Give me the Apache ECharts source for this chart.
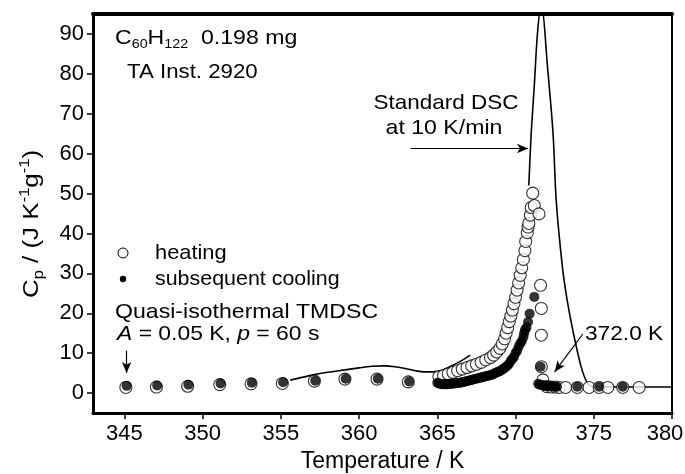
<!DOCTYPE html>
<html>
<head>
<meta charset="utf-8">
<script src="https://cdn.jsdelivr.net/npm/echarts@6/dist/echarts.min.js"></script>
<style>
html, body { margin: 0; padding: 0; background: #fff; }
#chart { width: 685px; height: 474px; }
</style>
</head>
<body>
<div id="chart"></div>
<script>
const FONT = '"Liberation Sans", Arial, Helvetica, sans-serif';

// Axis ticks
const xTicks = [345, 350, 355, 360, 365, 370, 375, 380];
const yTicks = [0, 10, 20, 30, 40, 50, 60, 70, 80, 90];

// Standard DSC at 10 K/min (null splits the trace where it runs under the symbols)
const dscT  = [355.6, 356.2, 357.0, 358.0, 359.1, 360.0, 360.8, 361.6, 362.3, 363.0, 363.6, 364.2, 364.7, 365.2, 365.8, 366.5, 367.1,
               369.0,
               370.85, 371.0, 371.2, 371.4, 371.65, 372.05, 372.4, 372.6, 373.0, 373.3, 373.7, 374.2, 374.6, 375.0, 376.0, 378.0, 380.0];
const dscCp = [3.2, 3.8, 4.5, 5.2, 5.8, 6.3, 6.7, 6.8, 6.6, 6.1, 5.6, 5.3, 5.3, 5.6, 6.6, 8.0, 9.5,
               null,
               52, 65, 77, 90, 98, 81.5, 65, 48.3, 31.5, 23.3, 15, 6.5, 2.5, 1.6, 1.5, 1.5, 1.5];

// Quasi-isothermal TMDSC, heating
const heatT  = [345.1, 347.05, 349.05, 351.1, 353.1, 355.1, 357.15, 359.1, 361.15, 363.15,
                365.1, 365.4, 365.7, 366.0, 366.3, 366.6, 366.9, 367.2, 367.5, 367.8, 368.1, 368.4, 368.6, 368.8,
                369.0, 369.15, 369.3, 369.4, 369.5, 369.6, 369.7, 369.8, 369.9, 370.0, 370.1, 370.2, 370.3, 370.4,
                370.5, 370.6, 370.65, 370.75, 370.8, 370.85, 370.95, 371.0, 371.1, 371.2, 371.5,
                371.6, 371.65, 371.65, 371.65, 371.75, 372.0, 372.3, 372.55, 372.8, 373.2, 373.95, 374.7, 375.35, 375.9, 376.85, 377.9];
const heatCp = [1.4, 1.5, 1.7, 2.1, 2.3, 2.4, 3.0, 3.5, 3.5, 2.8,
                4.1, 4.4, 4.8, 5.2, 5.6, 6.0, 6.4, 6.8, 7.2, 7.7, 8.3, 8.9, 9.5, 10.3,
                11.2, 12.3, 13.6, 15.0, 16.4, 17.9, 19.3, 20.8, 22.4, 24.0, 25.8, 27.6, 29.5, 31.4,
                33.5, 35.7, 38.0, 40.2, 41.6, 42.5, 44.6, 46.5, 50.1, 47.0, 44.9,
                27.0, 21.2, 14.5, 6.6, 3.3, 1.6, 1.5, 1.5, 1.4, 1.4, 1.4, 1.4, 1.4, 1.4, 1.4, 1.4];

// Subsequent cooling
const coolT  = [345.15, 347.1, 349.1, 351.15, 353.15, 355.15, 357.2, 359.15, 361.2, 363.2,
                365.0, 365.1, 365.2, 365.3, 365.4, 365.5, 365.6, 365.7, 365.8, 365.9, 366.0, 366.1, 366.2, 366.3,
                366.4, 366.5, 366.6, 366.7, 366.8, 366.9, 367.0, 367.1, 367.2, 367.3, 367.4, 367.5, 367.6, 367.7,
                367.8, 367.9, 368.0, 368.1, 368.2, 368.3, 368.4, 368.5, 368.6, 368.7, 368.8, 368.9, 369.0, 369.1,
                369.2, 369.3, 369.4, 369.5, 369.6, 369.7, 369.8, 369.9, 370.0, 370.1, 370.2, 370.3, 370.4, 370.5,
                370.55, 370.6, 370.7, 370.8, 370.9, 371.2,
                371.6, 371.45, 371.55, 371.65, 371.75, 371.85, 371.95, 372.05, 372.15, 372.25, 372.35, 372.45, 372.55, 372.65,
                373.95, 375.35, 376.85];
const coolCp = [1.8, 1.9, 2.1, 2.4, 2.6, 2.7, 3.1, 3.6, 3.6, 2.9,
                2.6, 2.4, 2.3, 2.2, 2.2, 2.2, 2.2, 2.2, 2.3, 2.3, 2.4, 2.4, 2.5, 2.5,
                2.6, 2.6, 2.7, 2.8, 2.9, 3.0, 3.1, 3.2, 3.3, 3.4, 3.5, 3.6, 3.7, 3.8,
                3.9, 4.0, 4.1, 4.2, 4.3, 4.4, 4.5, 4.6, 4.8, 5.0, 5.2, 5.3, 5.5, 5.7,
                6.0, 6.3, 6.6, 6.9, 7.4, 8.1, 8.6, 9.0, 10.0, 10.6, 11.6, 12.4, 13.0, 14.0,
                15.0, 15.8, 16.4, 17.8, 19.9, 24.1,
                6.6, 2.3, 2.1, 2.0, 1.9, 1.8, 1.8, 1.8, 1.7, 1.7, 1.7, 1.6, 1.6, 1.6,
                1.6, 1.6, 1.6];

const zip = (a, b) => a.map((v, i) => [v, b[i]]);

const chart = echarts.init(document.getElementById('chart'), null, { renderer: 'canvas' });

function richSet(size, small) {
  const lh = Math.round(size * 1.25);
  return {
    a: { fontFamily: FONT, fontSize: size, lineHeight: lh, fill: '#000', verticalAlign: 'middle' },
    s: { fontFamily: FONT, fontSize: small, lineHeight: lh, fill: '#000', verticalAlign: 'bottom' },
    u: { fontFamily: FONT, fontSize: small, lineHeight: lh, fill: '#000', verticalAlign: 'top' },
    i: { fontFamily: FONT, fontSize: size, lineHeight: lh, fill: '#000', verticalAlign: 'middle', fontStyle: 'italic' }
  };
}

// Wide sans lettering: regular font size, stretched horizontally
function label(x, y, text, stretch, align) {
  const size = 21;
  return {
    type: 'text', x: x, y: y, z: 100, scaleX: stretch,
    style: { text: text, fontFamily: FONT, fontSize: size, fill: '#000', align: align || 'left', verticalAlign: 'middle',
             rich: richSet(size, 13) }
  };
}

function arrow(from, to) {
  return [{ coord: from, symbol: 'none' }, { coord: to, symbol: 'arrow' }];
}

const option = {
  animation: false,
  backgroundColor: '#fff',
  grid: { left: 93, right: 13, top: 14, bottom: 61, containLabel: false, outerBoundsMode: 'none' },
  xAxis: [{
    type: 'value', min: 343, max: 380, position: 'bottom',
    name: 'Temperature / K', nameLocation: 'middle', nameGap: 37,
    nameTextStyle: { fontFamily: FONT, fontSize: 23, color: '#000' },
    axisLine: { show: true, onZero: false, lineStyle: { color: '#000', width: 3 } },
    axisTick: { show: true, inside: false, length: 6, customValues: xTicks, lineStyle: { color: '#000', width: 1.5 } },
    axisLabel: {
      show: true, margin: 10, customValues: xTicks, fontFamily: FONT, fontSize: 22, color: '#000',
      formatter: v => v === 380 ? '{last|380}' : String(v),
      rich: { last: { fontFamily: FONT, fontSize: 22, color: '#000', padding: [0, 14, 0, 0] } }
    },
    splitLine: { show: false }
  }, {
    type: 'value', min: 343, max: 380, position: 'top',
    axisLine: { show: true, onZero: false, lineStyle: { color: '#000', width: 4 } },
    axisTick: { show: false }, axisLabel: { show: false }, splitLine: { show: false }
  }],
  yAxis: [{
    type: 'value', min: -5, max: 95, position: 'left',
    axisLine: { show: true, onZero: false, lineStyle: { color: '#000', width: 3 } },
    axisTick: { show: true, inside: false, length: 6, customValues: yTicks, lineStyle: { color: '#000', width: 1.5 } },
    axisLabel: { show: true, margin: 9, customValues: yTicks, fontFamily: FONT, fontSize: 22, color: '#000' },
    splitLine: { show: false }
  }, {
    type: 'value', min: -5, max: 95, position: 'right',
    axisLine: { show: true, onZero: false, lineStyle: { color: '#000', width: 2 } },
    axisTick: { show: false }, axisLabel: { show: false }, splitLine: { show: false }
  }],
  series: [{
    name: 'Standard DSC', type: 'line', xAxisIndex: 0, yAxisIndex: 0,
    data: zip(dscT, dscCp), showSymbol: false, symbol: 'none', smooth: 0.3,
    connectNulls: false, clip: true, z: 1,
    lineStyle: { color: '#000', width: 1.6 },
    markLine: {
      silent: true, animation: false, symbolSize: [7, 11],
      label: { show: false },
      lineStyle: { color: '#000', width: 1.2, type: 'solid' },
      emphasis: { disabled: true },
      data: [
        arrow([363.3, 61.3], [370.8, 61.3]),
        arrow([345.15, 10.6], [345.15, 5.0]),
        arrow([374.3, 14.8], [372.5, 5.3])
      ]
    }
  }, {
    name: 'heating', type: 'scatter', xAxisIndex: 0, yAxisIndex: 0,
    data: zip(heatT, heatCp), symbol: 'circle', symbolSize: 12, z: 2,
    itemStyle: { color: '#fff', borderColor: '#000', borderWidth: 1.1 }
  }, {
    name: 'subsequent cooling', type: 'scatter', xAxisIndex: 0, yAxisIndex: 0,
    data: zip(coolT, coolCp), symbol: 'circle', symbolSize: 10, z: 3,
    itemStyle: { color: '#000', borderColor: '#000', borderWidth: 0 }
  }],
  graphic: [
    label(115, 38, '{a|C}{s|60}{a|H}{s|122}{a|  0.198 mg}', 1.1),
    label(127, 72, 'TA Inst. 2920', 1.06),
    label(446, 103, 'Standard DSC', 1.07, 'center'),
    label(444, 128, 'at 10 K/min', 1.1, 'center'),
    { type: 'circle', z: 100, shape: { cx: 123, cy: 253, r: 5 }, style: { fill: '#fff', stroke: '#000', lineWidth: 1 } },
    label(155, 253, 'heating', 1.04),
    { type: 'circle', z: 100, shape: { cx: 123, cy: 279, r: 3.2 }, style: { fill: '#000', stroke: null } },
    label(155, 279, 'subsequent cooling', 1.02),
    label(115, 312, 'Quasi-isothermal TMDSC', 1.1),
    label(117, 334, '{i|A}{a| = 0.05 K, }{i|p}{a| = 60 s}', 1.09),
    label(585, 334, '372.0 K', 1.08),
    {
      type: 'text', x: 32, y: 224, rotation: Math.PI / 2, scaleX: 1.18, z: 100,
      style: {
        text: '{a|C}{s|p}{a| / (J K}{u|-1}{a|g}{u|-1}{a|)}',
        fontFamily: FONT, fontSize: 22, fill: '#000', align: 'center', verticalAlign: 'middle', rich: richSet(22, 14)
      }
    }
  ]
};

chart.setOption(option);
</script>
</body>
</html>
